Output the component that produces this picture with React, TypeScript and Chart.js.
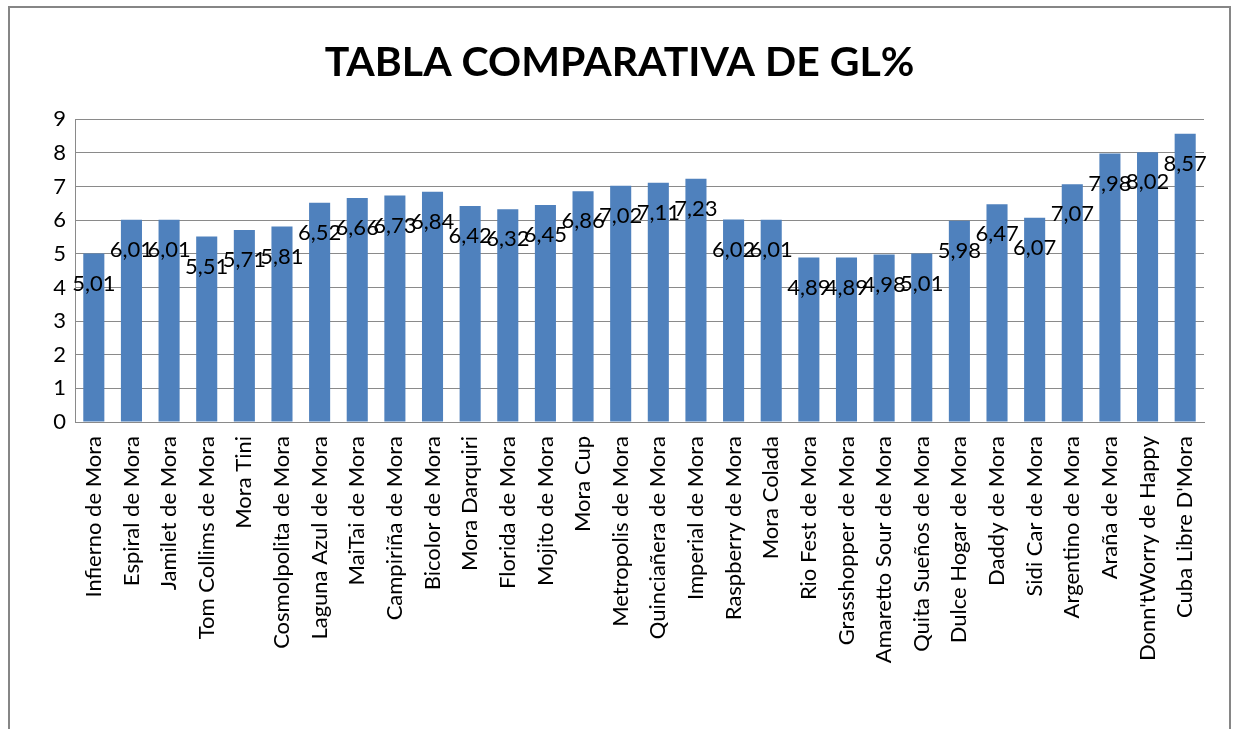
import React, { useEffect, useRef } from "react";
import { Chart, registerables } from "chart.js";

Chart.register(...registerables);

const TITLE = "TABLA COMPARATIVA DE GL%";

const categories = [
  "Infierno de Mora",
  "Espiral de Mora",
  "Jamilet de Mora",
  "Tom Collims de Mora",
  "Mora Tini",
  "Cosmolpolita de Mora",
  "Laguna Azul de Mora",
  "MaiTai de Mora",
  "Campiriña de Mora",
  "Bicolor de Mora",
  "Mora Darquiri",
  "Florida de Mora",
  "Mojito de Mora",
  "Mora Cup",
  "Metropolis de Mora",
  "Quinciañera de Mora",
  "Imperial de Mora",
  "Raspberry de Mora",
  "Mora Colada",
  "Rio Fest de Mora",
  "Grasshopper de Mora",
  "Amaretto Sour de Mora",
  "Quita Sueños de Mora",
  "Dulce Hogar de Mora",
  "Daddy de Mora",
  "Sidi Car de Mora",
  "Argentino de Mora",
  "Araña de Mora",
  "Donn'tWorry de Happy",
  "Cuba Libre D'Mora",
];

const glValues = [
  5.01, 6.01, 6.01, 5.51, 5.71, 5.81, 6.52, 6.66, 6.73, 6.84,
  6.42, 6.32, 6.45, 6.86, 7.02, 7.11, 7.23, 6.02, 6.01, 4.89,
  4.89, 4.98, 5.01, 5.98, 6.47, 6.07, 7.07, 7.98, 8.02, 8.57,
];

const yTicks = [0, 1, 2, 3, 4, 5, 6, 7, 8, 9];

const FONT = "Lato, 'Open Sans', sans-serif";
const TITLE_SIZE = 41;

const valueLabelPlugin = {
  id: "valueLabels",
  afterDatasetsDraw(chart: any) {
    const ctx = chart.ctx;
    const meta = chart.getDatasetMeta(0);
    ctx.save();
    ctx.font = `22px ${FONT}`;
    ctx.fillStyle = "#000";
    ctx.textAlign = "center";
    ctx.textBaseline = "middle";
    meta.data.forEach((bar: any, i: number) => {
      const v = chart.data.datasets[0].data[i] as number;
      const txt = v.toFixed(2).replace(".", ",");
      ctx.fillText(txt, bar.x, bar.y + 30);
    });
    ctx.restore();
  },
  afterDraw(chart: any) {
    const ctx = chart.ctx;
    const tb = chart.titleBlock;
    ctx.save();
    ctx.font = `bold ${TITLE_SIZE}px ${FONT}`;
    ctx.fillStyle = "#000";
    ctx.textAlign = "center";
    ctx.textBaseline = "middle";
    const cy = tb ? tb.top + 38 + (TITLE_SIZE * 1.2) / 2 : 62;
    ctx.fillText(TITLE, chart.width / 2 + 1, cy);
    ctx.restore();
  },
};

export default function App() {
  const ref = useRef<HTMLCanvasElement | null>(null);
  useEffect(() => {
    if (!ref.current) return;
    const chart = new Chart(ref.current, {
      type: "bar",
      data: {
        labels: categories,
        datasets: [
          {
            data: glValues,
            backgroundColor: "#4F81BD",
            borderWidth: 0,
            barPercentage: 0.56,
            categoryPercentage: 1,
          },
        ],
      },
      options: {
        animation: false,
        responsive: false,
        maintainAspectRatio: false,
        layout: { padding: { left: 0, right: 33, top: 0, bottom: 0 } },
        plugins: {
          legend: { display: false },
          tooltip: { enabled: false },
          title: {
            display: true,
            text: TITLE,
            color: "rgba(0,0,0,0)",
            font: { family: FONT, size: TITLE_SIZE, weight: "bold" },
            padding: { top: 38, bottom: 32 },
          },
        },
        scales: {
          x: {
            grid: { display: false, drawTicks: false },
            border: { display: true, color: "#8a8a8a", width: 1 },
            ticks: {
              color: "#000",
              font: { family: FONT, size: 22 },
              minRotation: 90,
              maxRotation: 90,
              autoSkip: false,
              padding: 14,
            },
            afterFit(scale: any) {
              scale.height = 729 - 422;
            },
          },
          y: {
            min: 0,
            max: 9,
            afterBuildTicks(scale: any) {
              scale.ticks = yTicks.map((v) => ({ value: v }));
            },
            grid: { color: "#8a8a8a", lineWidth: 1, drawTicks: false },
            border: { display: true, color: "#8a8a8a", width: 1 },
            ticks: {
              color: "#000",
              font: { family: FONT, size: 22 },
              padding: 9,
            },
            afterFit(scale: any) {
              scale.width = 75;
            },
          },
        },
      },
      plugins: [valueLabelPlugin],
    });
    return () => chart.destroy();
  }, []);

  return (
    <div style={{ position: "fixed", left: 0, top: 0, width: 1237, height: 729, background: "#fff", overflow: "hidden" }}>
      <div
        style={{
          position: "absolute",
          left: 8,
          top: 6,
          width: 1223,
          height: 760,
          border: "2px solid #868686",
          boxSizing: "border-box",
        }}
      />
      <canvas ref={ref} width={1237} height={729} style={{ position: "absolute", left: 0, top: 0, display: "block" }} />
    </div>
  );
}
